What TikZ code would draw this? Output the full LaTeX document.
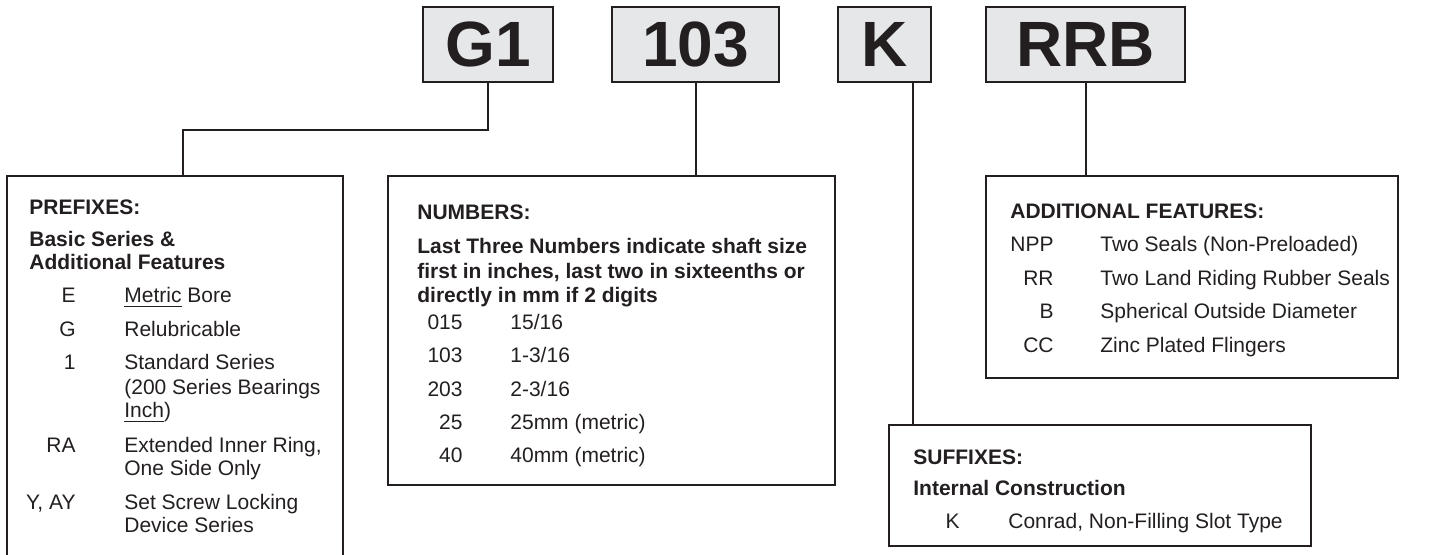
\documentclass[tikz,border=0pt]{standalone}
\usepackage{fontspec}
\setmainfont{Liberation Sans}
\usetikzlibrary{positioning,calc}
\definecolor{ink}{RGB}{35,31,32}
\definecolor{boxgray}{RGB}{230,231,232}

\begin{document}
\begin{tikzpicture}[
    x=0.5pt, y=-0.5pt,
    partbox/.style={draw=ink, fill=boxgray, line width=1pt, outer sep=0pt, inner sep=0pt,
      minimum height=37.5pt, text=ink, font=\fontsize{32}{32}\selectfont\bfseries},
    panel/.style={draw=ink, line width=1pt, outer sep=0pt, inner sep=0pt, anchor=north west},
    wire/.style={draw=ink, line width=1pt},
    head/.style={anchor=base west, inner sep=0pt, text=ink, font=\fontsize{10.5}{12}\selectfont\bfseries},
    code/.style={anchor=base east, inner sep=0pt, text=ink, font=\fontsize{10.5}{12}\selectfont},
    desc/.style={anchor=base west, inner sep=0pt, text=ink, font=\fontsize{10.5}{12}\selectfont}
  ]
    \useasboundingbox (0,0) rectangle (1437,555);
    % part number boxes
    \node[partbox, minimum width=65pt]   (g1)   at (488,44.5)    {G1};
    \node[partbox, minimum width=83.5pt] (n103) at (695.5,44.5)  {103};
    \node[partbox, minimum width=46.5pt] (kbox) at (884.5,44.5)  {K};
    \node[partbox, minimum width=99.5pt] (rrb)  at (1085.5,44.5) {RRB};
    % panels
    \draw[wire] (7,555) |- (343,176) -- (343,555);
    \coordinate (pfxtop) at (183,176);
    \node[panel, minimum width=223.5pt, minimum height=154.5pt] (numbers) at (388,176) {};
    \node[panel, minimum width=206pt, minimum height=101pt]     (addfeat) at (986,176) {};
    \node[panel, minimum width=211pt, minimum height=60.5pt]    (suffixes) at (889,425) {};
    \coordinate (kstem) at (913,425);
    % connectors
    \draw[wire] (g1.south) -- ++(0,48) -| (pfxtop);
    \draw[wire] (n103.south) -- (numbers.north -| n103.south);
    \draw[wire] (kbox.south -| kstem) -- (kstem);
    \draw[wire] (rrb.south) -- (addfeat.north -| rrb.south);
    % prefixes
    \node[head] (pfxhead) at (29,215) {PREFIXES:};
    \node[head] (pfxsub1) at (29,247) {Basic Series \&};
    \node[head] (pfxsub2) at (29,270) {Additional Features};
    \foreach \c/\y [count=\i] in {E/303, G/337, 1/370, RA/453, {Y, AY}/510}
      \node[code] (pfxc-\i) at (76,\y) {\c};
    \foreach \d/\y [count=\i] in {{\underline{Metric} Bore}/303, Relubricable/337,
        Standard Series/370, {(200 Series Bearings}/395, {\underline{Inch})}/418,
        {Extended Inner Ring,}/453, One Side Only/476,
        Set Screw Locking/510, Device Series/533}
      \node[desc] (pfxd-\i) at (124,\y) {\d};
    % numbers
    \node[head] (numhead) at (417,220) {NUMBERS:};
    \node[head] (numsub1) at (417,254) {Last Three Numbers indicate shaft size};
    \node[head] (numsub2) at (417,279) {first in inches, last two in sixteenths or};
    \node[head] (numsub3) at (417,303) {directly in mm if 2 digits};
    \foreach \c/\d/\y [count=\i] in {015/{15/16}/330, 103/{1-3/16}/363, 203/{2-3/16}/397,
        25/{25mm (metric)}/430, 40/{40mm (metric)}/463}{
      \node[code] (numc-\i) at (463,\y) {\c};
      \node[desc] (numd-\i) at (510,\y) {\d};
    }
    % additional features
    \node[head] (addhead) at (1010,219) {ADDITIONAL FEATURES:};
    \foreach \c/\d/\y [count=\i] in {NPP/{Two Seals (Non-Preloaded)}/252,
        RR/Two Land Riding Rubber Seals/286, B/Spherical Outside Diameter/319,
        CC/Zinc Plated Flingers/353}{
      \node[code] (addc-\i) at (1054,\y) {\c};
      \node[desc] (addd-\i) at (1100,\y) {\d};
    }
    % suffixes
    \node[head] (sfxhead) at (913,465) {SUFFIXES:};
    \node[head] (sfxsub)  at (913,496) {Internal Construction};
    \node[code] (sfxc)    at (960,529) {K};
    \node[desc] (sfxd)    at (1008,529) {Conrad, Non-Filling Slot Type};
  \end{tikzpicture}
\end{document}
